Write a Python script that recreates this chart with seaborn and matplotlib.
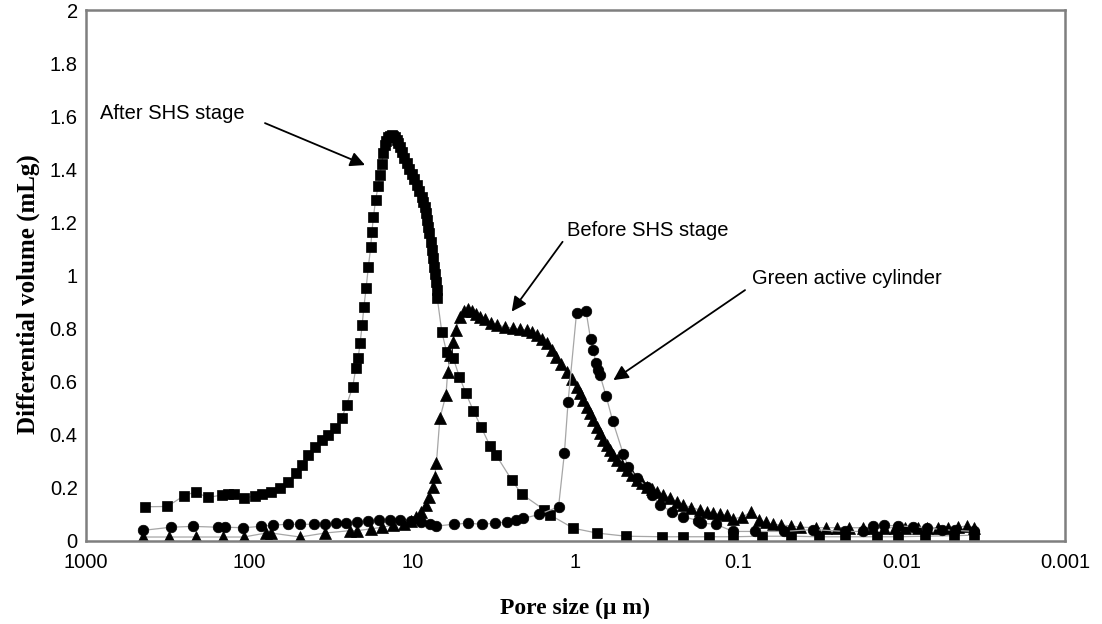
import matplotlib
matplotlib.use("Agg")
import matplotlib.pyplot as plt
import seaborn as sns
import pandas as pd

# ---------------- data ----------------
after_x = [435, 318, 250, 213, 180, 147, 134, 124, 108, 92, 83, 73, 65, 57.5, 52, 47.6, 43.4,
           39.5, 36, 32.8, 29.8, 27.1, 25.3, 23.2, 22.2, 21.5, 20.9, 20.3, 19.8, 19.2, 18.6,
           18.0, 17.7, 17.3, 16.8, 16.2, 15.8, 15.4, 15.07, 14.7, 14.4, 14.0, 13.7, 13.4, 13.1,
           12.8, 12.5, 12.2, 11.9, 11.6, 11.2, 10.8, 10.45, 10.1, 9.75, 9.4, 9.08, 8.77, 8.55,
           8.36, 8.22, 8.1, 7.98, 7.87, 7.73, 7.6, 7.48, 7.36, 7.27, 7.19, 7.11, 7.03, 6.6,
           6.17, 5.61, 5.15, 4.69, 4.23, 3.8, 3.34, 3.07, 2.46, 2.14, 1.55, 1.43, 1.03, 0.74,
           0.49, 0.296, 0.218, 0.153, 0.108, 0.072, 0.048, 0.032, 0.0224, 0.0142, 0.0105,
           0.0072, 0.0048, 0.0036]
after_y = [0.129, 0.130, 0.171, 0.185, 0.164, 0.173, 0.177, 0.177, 0.161, 0.170, 0.177, 0.186,
           0.198, 0.223, 0.255, 0.286, 0.324, 0.355, 0.380, 0.399, 0.424, 0.462, 0.512, 0.581,
           0.650, 0.688, 0.745, 0.814, 0.883, 0.952, 1.033, 1.106, 1.165, 1.222, 1.284, 1.337,
           1.378, 1.42, 1.46, 1.49, 1.507, 1.52, 1.527, 1.529, 1.527, 1.52, 1.51, 1.498, 1.483,
           1.466, 1.444, 1.422, 1.402, 1.382, 1.362, 1.341, 1.319, 1.297, 1.278, 1.259, 1.235,
           1.209, 1.184, 1.159, 1.128, 1.096, 1.065, 1.033, 1.005, 0.977, 0.945, 0.914, 0.788,
           0.713, 0.688, 0.619, 0.556, 0.491, 0.431, 0.358, 0.324, 0.230, 0.177, 0.117, 0.098,
           0.048, 0.03, 0.018, 0.016, 0.016, 0.016, 0.016, 0.018, 0.018, 0.016, 0.016, 0.016,
           0.016, 0.018, 0.02, 0.022]

before_x = [448, 308, 213, 144, 108, 78.8, 73, 48.8, 34.3, 24.1, 21.8, 17.8, 15.3, 13.2, 11.3,
            10.2, 9.5, 8.9, 8.3, 7.85, 7.5, 7.3, 7.12, 6.78, 6.22, 6.07, 5.85, 5.66, 5.4, 5.1,
            4.8, 4.54, 4.3, 4.05, 3.85, 3.6, 3.3, 3.04, 2.7, 2.41, 2.2, 1.99, 1.85, 1.73, 1.6,
            1.5, 1.4, 1.31, 1.22, 1.13, 1.05, 0.985, 0.94, 0.896, 0.855, 0.815, 0.778, 0.741,
            0.708, 0.676, 0.645, 0.615, 0.587, 0.56, 0.52, 0.486, 0.452, 0.422, 0.392, 0.366,
            0.34, 0.318, 0.29, 0.264, 0.24, 0.219, 0.195, 0.173, 0.157, 0.143, 0.13, 0.118,
            0.108, 0.095, 0.0835, 0.075, 0.068, 0.062, 0.055, 0.048, 0.042, 0.0336, 0.029,
            0.0248, 0.021, 0.0174, 0.015, 0.0128, 0.011, 0.0095, 0.008, 0.007, 0.006, 0.0052,
            0.0045, 0.004, 0.0036]
before_y = [0.015, 0.015, 0.015, 0.015, 0.015, 0.03, 0.03, 0.015, 0.03, 0.039, 0.039, 0.046,
            0.052, 0.059, 0.065, 0.075, 0.09, 0.11, 0.136, 0.167, 0.205, 0.242, 0.293, 0.462,
            0.55, 0.638, 0.70, 0.75, 0.795, 0.845, 0.865, 0.872, 0.865, 0.855, 0.845, 0.835,
            0.822, 0.814, 0.806, 0.801, 0.798, 0.795, 0.788, 0.776, 0.762, 0.745, 0.72, 0.694,
            0.666, 0.638, 0.61, 0.581, 0.556, 0.531, 0.506, 0.481, 0.455, 0.43, 0.405, 0.38,
            0.36, 0.343, 0.324, 0.305, 0.285, 0.267, 0.248, 0.23, 0.217, 0.205, 0.195, 0.186,
            0.173, 0.161, 0.148, 0.136, 0.126, 0.117, 0.11, 0.104, 0.1, 0.098, 0.084, 0.09,
            0.11, 0.08, 0.07, 0.063, 0.06, 0.057, 0.052, 0.05, 0.05, 0.05, 0.05, 0.05, 0.048,
            0.05, 0.05, 0.05, 0.048, 0.05, 0.05, 0.05, 0.052, 0.057, 0.05]

green_x = [448, 300, 221, 156, 141, 109, 84.9, 71.2, 58.2, 48.8, 39.9, 34.3, 29.5, 25.4, 21.8,
           18.7, 16.1, 13.8, 11.9, 10.2, 8.8, 7.76, 7.2, 5.59, 4.57, 3.74, 3.13, 2.63, 2.32,
           2.09, 1.67, 1.27, 1.17, 1.11, 0.985, 0.863, 0.808, 0.778, 0.75, 0.725, 0.708, 0.65,
           0.592, 0.51, 0.475, 0.422, 0.366, 0.341, 0.303, 0.257, 0.219, 0.178, 0.169, 0.138,
           0.108, 0.079, 0.053, 0.035, 0.0224, 0.0174, 0.015, 0.0128, 0.0105, 0.0086, 0.007,
           0.0057, 0.0047, 0.0036]
green_y = [0.04, 0.052, 0.055, 0.052, 0.052, 0.05, 0.055, 0.06, 0.063, 0.063, 0.063, 0.063,
           0.066, 0.069, 0.072, 0.074, 0.078, 0.08, 0.08, 0.076, 0.072, 0.063, 0.056, 0.063,
           0.067, 0.063, 0.067, 0.072, 0.078, 0.085, 0.1, 0.129, 0.33, 0.525, 0.86, 0.868,
           0.76, 0.719, 0.672, 0.644, 0.625, 0.547, 0.453, 0.328, 0.28, 0.236, 0.205, 0.173,
           0.136, 0.11, 0.092, 0.077, 0.067, 0.063, 0.036, 0.036, 0.036, 0.043, 0.036, 0.036,
           0.057, 0.059, 0.057, 0.054, 0.05, 0.043, 0.04, 0.036]

x_ticks = [1000, 100, 10, 1, 0.1, 0.01, 0.001]
x_tick_labels = ["1000", "100", "10", "1", "0.1", "0.01", "0.001"]
y_ticks = [0, 0.2, 0.4, 0.6, 0.8, 1, 1.2, 1.4, 1.6, 1.8, 2]
y_tick_labels = ["0", "0.2", "0.4", "0.6", "0.8", "1", "1.2", "1.4", "1.6", "1.8", "2"]

# ---------------- plot ----------------
sns.set_style("white")
plt.rcParams["font.family"] = ["Liberation Sans", "DejaVu Sans"]
plt.rcParams["text.color"] = "black"
plt.rcParams["axes.labelcolor"] = "black"

fig = plt.figure(figsize=(11.02, 6.24), dpi=100)
ax = fig.add_axes([86 / 1102, 83 / 624, (1065 - 86) / 1102, (541 - 10) / 624])

line_color = "#a6a6a6"
series = [
    (after_x, after_y, "s", 7.0),
    (before_x, before_y, "^", 8.0),
    (green_x, green_y, "o", 7.6),
]
for xs, ys, mk, ms in series:
    df = pd.DataFrame({"x": xs, "y": ys})
    sns.lineplot(data=df, x="x", y="y", sort=False, ax=ax, color=line_color,
                 linewidth=0.9, marker=mk, markersize=ms, markerfacecolor="black",
                 markeredgecolor="black", markeredgewidth=0.5, estimator=None)

ax.set_xscale("log")
ax.set_xlim(1000, 0.001)
ax.set_ylim(0, 2)
ax.set_xticks(x_ticks)
ax.set_xticklabels(x_tick_labels)
ax.minorticks_off()
ax.set_yticks(y_ticks)
ax.set_yticklabels(y_tick_labels)

for sp in ax.spines.values():
    sp.set_color("#7f7f7f")
    sp.set_linewidth(1.8)
    sp.set_visible(True)
ax.tick_params(axis="both", labelsize=14.5, colors="#7f7f7f", labelcolor="black",
               direction="in", length=4, width=1, pad=6)
ax.tick_params(axis="x", pad=9)

ax.set_xlabel("Pore size (\u03bc m)", fontsize=17, fontweight="bold", color="black",
              family=["Liberation Serif", "DejaVu Serif"], labelpad=18)
ax.set_ylabel("Differential volume (mLg)", fontsize=18, fontweight="bold", color="black",
              family=["Liberation Serif", "DejaVu Serif"])
ax.yaxis.set_label_coords(-0.047, 0.465)

arrow = dict(arrowstyle="-|>", color="black", lw=1.3, mutation_scale=22, shrinkA=0, shrinkB=0)
ax.annotate("", xy=(19.5, 1.416), xytext=(80, 1.574), arrowprops=arrow)
ax.text(820, 1.612, "After SHS stage", fontsize=14.5, va="center", ha="left", color="black")
ax.annotate("", xy=(2.46, 0.864), xytext=(1.2, 1.127), arrowprops=arrow)
ax.text(1.13, 1.171, "Before SHS stage", fontsize=14.5, va="center", ha="left", color="black")
ax.annotate("", xy=(0.586, 0.606), xytext=(0.0914, 0.945), arrowprops=arrow)
ax.text(0.0828, 0.99, "Green active cylinder", fontsize=14.5, va="center", ha="left",
        color="black")

fig.savefig("out.png", dpi=100)
